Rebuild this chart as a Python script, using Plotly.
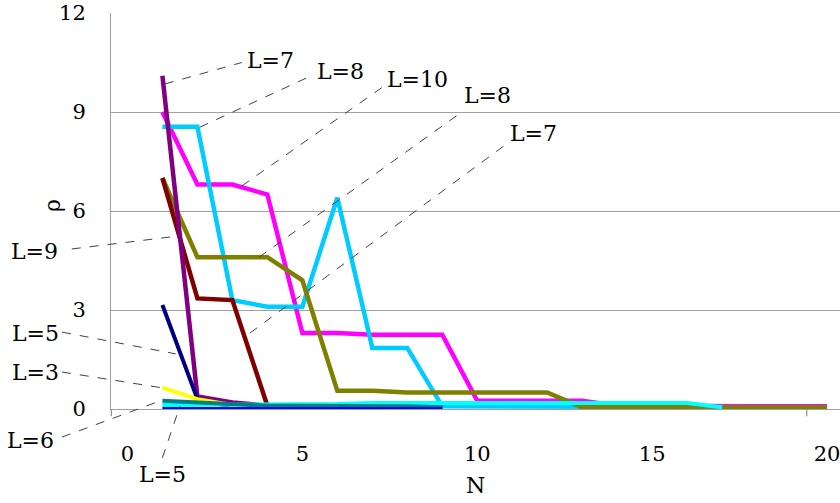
import plotly.graph_objects as go

# ---------------- data ----------------
N = list(range(1, 21))

rho_magenta = [9.0, 6.8, 6.8, 6.5, 2.3, 2.3, 2.25, 2.25, 2.25, 0.25, 0.25, 0.25, 0.25, 0.1, 0.1, 0.1, 0.08, 0.08, 0.08, 0.08]
rho_sky     = [8.55, 8.55, 3.3, 3.1, 3.1, 6.4, 1.85, 1.85, 0.08, 0.08, 0.08, 0.08, 0.08, 0.08, 0.08, 0.08, 0.05, 0.05, 0.05, 0.05]
rho_olive   = [7.0, 4.6, 4.6, 4.6, 3.9, 0.55, 0.55, 0.5, 0.5, 0.5, 0.5, 0.5, 0.05, 0.05, 0.05, 0.05, 0.05, 0.05, 0.05, 0.05]
rho_maroon  = [7.0, 3.35, 3.3, 0.1, 0.08, 0.08, 0.1, 0.08, 0.05]
rho_purple  = [10.1, 0.38, 0.2, 0.1, 0.1, 0.08, 0.08, 0.08, 0.06]
rho_navy    = [3.15, 0.3, 0.06, 0.05, 0.05, 0.05, 0.05, 0.05, 0.04]
rho_yellow  = [0.65, 0.3, 0.12, 0.08, 0.06, 0.05, 0.05, 0.05, 0.05]
rho_cyan    = [0.12, 0.12, 0.12, 0.12, 0.15, 0.15, 0.18, 0.18, 0.18, 0.18, 0.18, 0.18, 0.18, 0.18, 0.18, 0.18, 0.05]
rho_teal    = [0.25, 0.2, 0.15, 0.1, 0.1, 0.1, 0.08, 0.08, 0.05]
rho_blue    = [0.02, 0.02, 0.02, 0.02, 0.02, 0.02, 0.02, 0.02, 0.02]

series = [
    ("L=10", rho_magenta, "#FF00FF", 4.5),
    ("L=8a", rho_sky, "#00CCFF", 4.5),
    ("L=8b", rho_olive, "#808000", 4.5),
    ("L=9", rho_maroon, "#800000", 4.5),
    ("L=7", rho_purple, "#800080", 4.5),
    ("L=5a", rho_navy, "#000080", 4),
    ("L=3", rho_yellow, "#FFFF00", 4),
    ("L=5b", rho_cyan, "#00FFFF", 4),
    ("L=6", rho_teal, "#008080", 4),
    ("L=1", rho_blue, "#0000FF", 2.5),
]

x_ticks = [0, 5, 10, 15, 20]
y_ticks = [0, 3, 6, 9, 12]
X_RANGE = [-0.47, 20.37]
Y_RANGE = [0, 12]
x_axis_marks = [-0.46, 19.42]
y_title_pos = (-2.16, 6.18)

# label: text, text position (N, rho), leader start (N, rho), leader end (N, rho)
labels = [
    ("L=7",  (4.1, 10.57), (1.07, 9.85), (3.27, 10.5)),
    ("L=8",  (6.1, 10.24), (2.07, 8.54), (5.3, 10.12)),
    ("L=10", (8.3, 9.99),  (3.27, 6.76), (7.3, 9.76)),
    ("L=8",  (10.3, 9.51), (3.76, 4.6),  (9.56, 9.0)),
    ("L=7",  (11.62, 8.36), (3.5, 2.3),  (10.76, 7.97)),
    ("L=9",  (-2.67, 4.76), (-1.59, 4.85), (1.44, 5.24)),
    ("L=5",  (-2.62, 2.3),  (-1.87, 2.33), (1.38, 1.67)),
    ("L=3",  (-2.62, 1.12), (-1.87, 1.12), (1.0, 0.64)),
    ("L=6",  (-2.76, -0.94), (-1.87, -0.85), (1.0, 0.27)),
    ("L=5",  (1.0, -1.97), (1.0, -1.48), (1.5, 0.09)),
]

FONT = "DejaVu Serif"

fig = go.Figure()
for name, vals, color, w in series:
    fig.add_trace(go.Scatter(x=N[:len(vals)], y=vals, mode="lines", name=name,
                             line=dict(color=color, width=w), showlegend=False,
                             hoverinfo="skip"))

def to_paper(n, r):
    px = (n - X_RANGE[0]) / (X_RANGE[1] - X_RANGE[0])
    py = (r - Y_RANGE[0]) / (Y_RANGE[1] - Y_RANGE[0])
    return px, py

for text, tpos, a, b in labels:
    ax0, ay0 = to_paper(*a)
    bx0, by0 = to_paper(*b)
    fig.add_shape(type="line", xref="paper", yref="paper", x0=ax0, y0=ay0, x1=bx0, y1=by0,
                  line=dict(color="#404040", width=1, dash="dash"))
    tx, ty = to_paper(*tpos)
    fig.add_annotation(xref="paper", yref="paper", x=tx, y=ty, text=text, showarrow=False,
                       font=dict(family=FONT, size=22, color="black"),
                       xanchor="center", yanchor="middle")

# y-axis title placed beside the tick labels
tx, ty = to_paper(*y_title_pos)
fig.add_annotation(xref="paper", yref="paper", x=tx, y=ty, text="ρ", showarrow=False,
                   textangle=-90, font=dict(family=FONT, size=22, color="black"),
                   xanchor="center", yanchor="middle")

# small tick marks below the x axis
for xm in x_axis_marks:
    px, _ = to_paper(xm, 0)
    fig.add_shape(type="line", xref="paper", yref="paper", x0=px, x1=px, y0=0, y1=-0.018,
                  line=dict(color="#909090", width=1.2))

fig.update_layout(
    width=840, height=503,
    margin=dict(l=111, r=0, t=13, b=94),
    paper_bgcolor="white", plot_bgcolor="white",
    font=dict(family=FONT, size=21, color="black"),
    xaxis=dict(range=X_RANGE, tickvals=x_ticks, ticktext=[str(v) for v in x_ticks],
               showgrid=False, zeroline=False, showline=True, linecolor="#A0A0A0", linewidth=1,
               ticks="", ticklabelstandoff=26, tickfont=dict(family=FONT, size=21),
               ticklabeloverflow="allow",
               title=dict(text="N", font=dict(family=FONT, size=22), standoff=12)),
    yaxis=dict(range=Y_RANGE, tickvals=y_ticks, ticktext=[str(v) for v in y_ticks],
               showgrid=True, gridcolor="#A0A0A0", gridwidth=1, zeroline=False,
               showline=True, linecolor="#A0A0A0", linewidth=1, ticks="",
               ticklabelstandoff=20, tickfont=dict(family=FONT, size=21)),
)

fig.write_html("out.html")
